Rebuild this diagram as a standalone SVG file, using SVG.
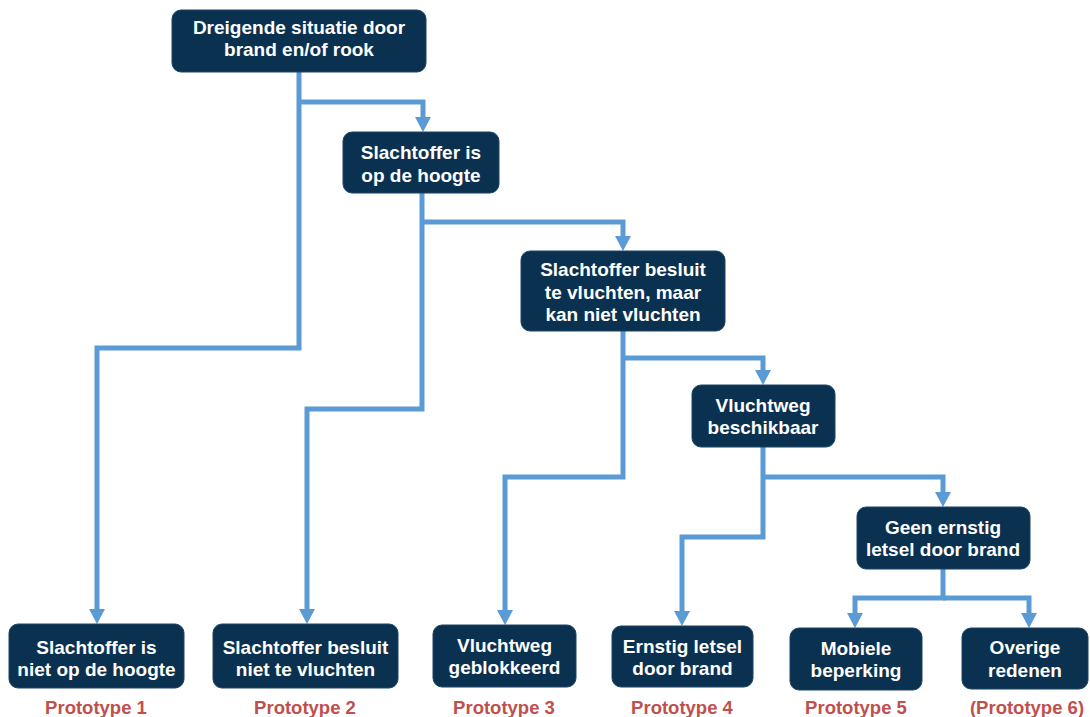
<svg xmlns="http://www.w3.org/2000/svg" width="1090" height="717" viewBox="0 0 1090 717">
<style>
.box{fill:#0B3150;stroke:#1d4466;stroke-width:1}
.t{font-family:"Liberation Sans",Arial,sans-serif;font-weight:bold;font-size:19px;fill:#ffffff;text-anchor:middle}
.lbl{font-family:"Liberation Sans",Arial,sans-serif;font-weight:bold;font-size:18.5px;fill:#C0504D;text-anchor:middle}
.c{fill:none;stroke:#5B9BD5;stroke-width:5;stroke-linejoin:miter}
</style>
<defs>
<marker id="ah" viewBox="0 0 15 16" refX="1" refY="8" markerWidth="15" markerHeight="16" markerUnits="userSpaceOnUse" orient="auto">
<path d="M0,0 L15,8 L0,16 z" fill="#5B9BD5"/>
</marker>
</defs>
<rect width="1090" height="717" fill="#ffffff"/>
<g id="connectors">
<path class="c" d="M299 72 V348 H97 V610" marker-end="url(#ah)"/>
<path class="c" d="M299 102 H423 V118" marker-end="url(#ah)"/>
<path class="c" d="M422 193 V409 H307 V610" marker-end="url(#ah)"/>
<path class="c" d="M422 222 H623 V237" marker-end="url(#ah)"/>
<path class="c" d="M623 331 V477 H505 V611" marker-end="url(#ah)"/>
<path class="c" d="M623 358 H763 V371" marker-end="url(#ah)"/>
<path class="c" d="M763 447 V537 H682 V612" marker-end="url(#ah)"/>
<path class="c" d="M763 477 H943 V493" marker-end="url(#ah)"/>
<path class="c" d="M943 569 V598 H855 V614" marker-end="url(#ah)"/>
<path class="c" d="M943 598 H1029 V614" marker-end="url(#ah)"/>
</g>
<g id="n1"><rect class="box" x="172" y="10" width="254" height="62" rx="9"/>
<text class="t" x="299" y="34">Dreigende situatie door</text><text class="t" x="299" y="56">brand en/of rook</text></g>
<g id="n2"><rect class="box" x="343" y="132" width="156" height="61" rx="9"/>
<text class="t" x="421" y="159">Slachtoffer is</text><text class="t" x="421" y="182">op de hoogte</text></g>
<g id="n3"><rect class="box" x="521" y="251" width="204" height="80" rx="9"/>
<text class="t" x="623" y="276">Slachtoffer besluit</text><text class="t" x="623" y="298.5">te vluchten, maar</text><text class="t" x="623" y="321">kan niet vluchten</text></g>
<g id="n4"><rect class="box" x="692" y="385" width="143" height="62" rx="9"/>
<text class="t" x="763" y="412">Vluchtweg</text><text class="t" x="763" y="434">beschikbaar</text></g>
<g id="n5"><rect class="box" x="857" y="507" width="173" height="62" rx="9"/>
<text class="t" x="943" y="534">Geen ernstig</text><text class="t" x="943" y="556">letsel door brand</text></g>
<g id="b1"><rect class="box" x="9" y="624" width="175" height="64" rx="9"/>
<text class="t" x="96.5" y="654">Slachtoffer is</text><text class="t" x="96.5" y="676">niet op de hoogte</text>
<text class="lbl" x="96" y="713.5">Prototype 1</text></g>
<g id="b2"><rect class="box" x="213" y="624" width="185" height="64" rx="9"/>
<text class="t" x="305.5" y="654">Slachtoffer besluit</text><text class="t" x="305.5" y="676">niet te vluchten</text>
<text class="lbl" x="305" y="713.5">Prototype 2</text></g>
<g id="b3"><rect class="box" x="433" y="625" width="143" height="62" rx="9"/>
<text class="t" x="504.5" y="652">Vluchtweg</text><text class="t" x="504.5" y="674">geblokkeerd</text>
<text class="lbl" x="504" y="713.5">Prototype 3</text></g>
<g id="b4"><rect class="box" x="612" y="626" width="141" height="61" rx="9"/>
<text class="t" x="682.5" y="653">Ernstig letsel</text><text class="t" x="682.5" y="675">door brand</text>
<text class="lbl" x="682" y="713.5">Prototype 4</text></g>
<g id="b5"><rect class="box" x="790" y="628" width="132" height="62" rx="9"/>
<text class="t" x="856" y="655">Mobiele</text><text class="t" x="856" y="677">beperking</text>
<text class="lbl" x="856" y="713.5">Prototype 5</text></g>
<g id="b6"><rect class="box" x="962" y="628" width="126" height="61" rx="9"/>
<text class="t" x="1025" y="654">Overige</text><text class="t" x="1025" y="677">redenen</text>
<text class="lbl" x="1027" y="713.5">(Prototype 6)</text></g>
</svg>
